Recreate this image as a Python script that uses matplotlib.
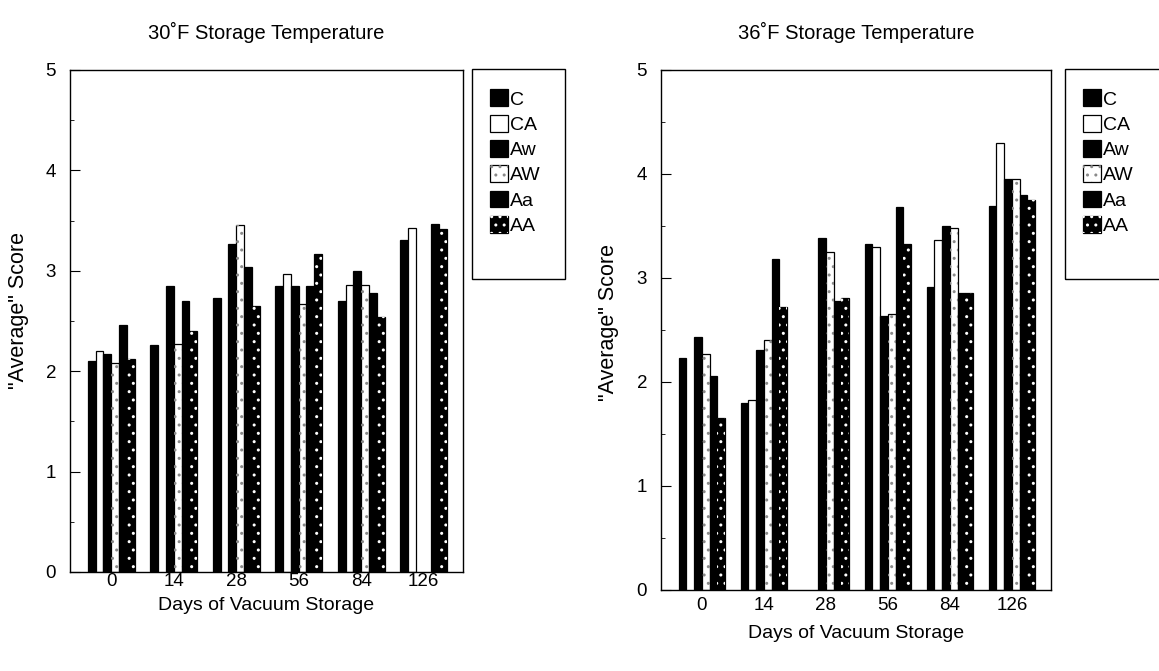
import numpy as np
import matplotlib
matplotlib.use('Agg')
import matplotlib.pyplot as plt
from matplotlib.patches import Patch, Rectangle
from matplotlib.ticker import MultipleLocator

plt.rcParams['font.family'] = ['Liberation Sans', 'DejaVu Sans']

nan = np.nan
days = ['0', '14', '28', '56', '84', '126']
series = ['C', 'CA', 'Aw', 'AW', 'Aa', 'AA']

# 30 F storage (missing bars = nan)
f30_C = [2.10, 2.26, 2.73, 2.85, 2.70, 3.31]
f30_CA = [2.20, nan, nan, 2.97, 2.86, 3.43]
f30_Aw = [2.17, 2.85, 3.27, 2.85, 3.00, nan]
f30_AW = [2.08, 2.27, 3.46, 2.67, 2.86, nan]
f30_Aa = [2.46, 2.70, 3.04, 2.85, 2.78, 3.47]
f30_AA = [2.12, 2.40, 2.65, 3.17, 2.54, 3.42]

# 36 F storage
f36_C = [2.23, 1.80, nan, 3.33, 2.91, 3.69]
f36_CA = [nan, 1.83, nan, 3.30, 3.37, 4.30]
f36_Aw = [2.43, 2.31, 3.38, 2.63, 3.50, 3.95]
f36_AW = [2.27, 2.40, 3.25, 2.65, 3.48, 3.95]
f36_Aa = [2.06, 3.18, 2.78, 3.68, 2.86, 3.80]
f36_AA = [1.65, 2.72, 2.81, 3.33, 2.86, 3.75]

data30 = [f30_C, f30_CA, f30_Aw, f30_AW, f30_Aa, f30_AA]
data36 = [f36_C, f36_CA, f36_Aw, f36_AW, f36_Aa, f36_AA]

# face colour, hatch, hatch colour
styles = {
    'C': ('black', None, None),
    'CA': ('white', None, None),
    'Aw': ('black', None, None),
    'AW': ('white', '..', '#8a8a8a'),
    'Aa': ('black', None, None),
    'AA': ('black', '..', 'white'),
}

W = 0.125


def draw_panel(ax, data, title, xpad, xlpad, ylab_x, ylab_y):
    x = np.arange(len(days))
    for i, name in enumerate(series):
        face, hatch, hcol = styles[name]
        pos = x + (i - 2.5) * W
        ax.bar(pos, data[i], W, color=face, edgecolor='black', linewidth=0.9)
        if hatch:
            ax.bar(pos, data[i], W, fill=False, hatch=hatch, edgecolor=hcol, linewidth=0)
    ax.set_xlim(-0.66, 5.63)
    ax.set_ylim(0, 5)
    ax.set_xticks(x)
    ax.set_xticklabels(days)
    ax.yaxis.set_major_locator(MultipleLocator(1))
    ax.yaxis.set_minor_locator(MultipleLocator(0.5))
    ax.tick_params(axis='x', length=0, pad=xpad, labelsize=13.5)
    ax.tick_params(axis='y', which='major', direction='in', length=7, pad=10, labelsize=13.5)
    ax.tick_params(axis='y', which='minor', direction='in', length=3)
    for sp in ax.spines.values():
        sp.set_linewidth(1.0)
    ax.set_title(title, fontsize=14.5, pad=22)
    ax.set_xlabel('Days of Vacuum Storage', fontsize=14, labelpad=xlpad)
    ax.set_ylabel('"Average" Score', fontsize=15.5)
    ax.yaxis.set_label_coords(ylab_x, ylab_y)


def legend_handles():
    hs = []
    for name in series:
        face, hatch, hcol = styles[name]
        base = Patch(facecolor=face, edgecolor='black', linewidth=0.9)
        if hatch:
            over = Patch(fill=False, hatch=hatch, edgecolor=hcol, linewidth=0)
            hs.append((base, over))
        else:
            hs.append(base)
    return hs


fig = plt.figure(figsize=(11.59, 6.71), dpi=100)
ax1 = fig.add_axes([70 / 1159, 1 - 572 / 671, 393 / 1159, 502 / 671])
ax2 = fig.add_axes([661 / 1159, 1 - 590 / 671, 390 / 1159, 520 / 671])

draw_panel(ax1, data30, '30˚F Storage Temperature', 1, 5, -0.104, 0.52)
draw_panel(ax2, data36, '36˚F Storage Temperature', 5, 8, -0.108, 0.515)

# legend boxes
for left, right in [(472, 565), (1065, 1170)]:
    fig.add_artist(Rectangle((left / 1159, 1 - 279 / 671), (right - left) / 1159, 210 / 671,
                             transform=fig.transFigure, fill=False, edgecolor='black', lw=1.0))
    fig.legend(legend_handles(), series, loc='upper left',
               bbox_to_anchor=(left / 1159, 1 - 72 / 671), frameon=False,
               fontsize=14, handlelength=0.95, handleheight=0.95, handletextpad=0.12,
               labelspacing=0.32, borderpad=0.9, borderaxespad=0)

fig.savefig('out.png', dpi=100)
